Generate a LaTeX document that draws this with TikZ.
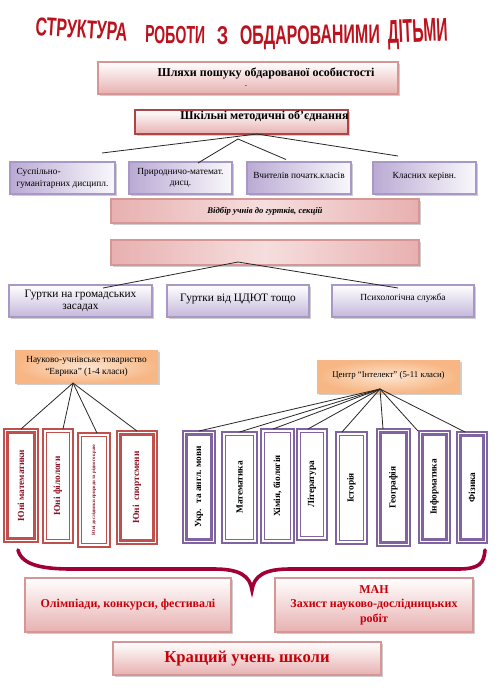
\documentclass[tikz,border=0pt]{standalone}
\usepackage{fontspec}
\setmainfont{Liberation Serif}
\setsansfont{Liberation Sans}
\usetikzlibrary{shadows,calc}
\definecolor{pinkB}{RGB}{232,176,176}
\definecolor{pinkL}{RGB}{246,222,222}
\definecolor{pinkEdge}{RGB}{214,150,150}
\definecolor{shkEdge}{RGB}{170,70,70}
\definecolor{lav}{RGB}{186,170,212}
\definecolor{lavEdge}{RGB}{168,152,198}
\definecolor{orOut}{RGB}{247,182,132}
\definecolor{orIn}{RGB}{252,228,208}
\definecolor{redBox}{RGB}{192,80,77}
\definecolor{purpleBox}{RGB}{128,100,162}
\definecolor{braceCol}{RGB}{160,0,55}
\definecolor{textRed}{RGB}{200,0,10}
\definecolor{darkRed}{RGB}{140,20,40}
\definecolor{titleRed}{RGB}{188,18,30}
\newcommand\fsz[2]{\fontsize{#1}{#2}\selectfont}
\newcommand\mybox[7]{\node[#6,minimum width={(#4-#2)*0.75pt},minimum height={(#5-#3)*0.75pt}] (#1) at ({(#2+#4)/2},{(#3+#5)/2}) {#7};}
\newcommand\dbox[8]{%
  \node[#6,minimum width={(#4-#2)*0.75pt},minimum height={(#5-#3)*0.75pt}] (#1) at ({(#2+#4)/2},{(#3+#5)/2}) {\rotatebox{90}{#8}};
  \draw[#7] ($(#1.south west)+(3.5,-3.5)$) rectangle ($(#1.north east)+(-3.5,3.5)$);}
\begin{document}
\begin{tikzpicture}[x=0.75pt,y=-0.75pt,
  conn/.style={draw=black!85,line width=0.6pt},
  base/.style={inner sep=0pt,outer sep=0pt,align=center},
  shd/.style={drop shadow={shadow xshift=1.3pt,shadow yshift=-1.3pt,opacity=0.35,fill=black!55}},
  ttl/.style={inner sep=0pt,anchor=base,text=titleRed,font=\sffamily\bfseries},
  pinkgrad/.style={base,shd,draw=pinkEdge,line width=1pt,top color=white,bottom color=pinkB},
  shkbox/.style={base,shd,draw=shkEdge,line width=1.4pt,top color=white,bottom color=pinkB},
  pinkband/.style={base,shd,draw=pinkEdge,line width=0.8pt,left color=pinkB,right color=pinkB,middle color=pinkL},
  lavbox/.style={base,shd,draw=lavEdge,line width=0.8pt,left color=lav,right color=white!92!lav,font=\fsz{7pt}{9.5pt}},
  lavbot/.style={base,shd,draw=lavEdge,line width=0.8pt,top color=white,bottom color=lav!85},
  orbox/.style={base,shd,inner color=orIn,outer color=orOut,font=\fsz{7pt}{9pt}},
  botbox/.style={base,shd,draw=pinkEdge,line width=1.5pt,top color=white,bottom color=pinkB,text=textRed,font=\bfseries\fsz{9pt}{10.9pt}},
  rbox/.style={base,draw=redBox,fill=white,text=darkRed,font=\bfseries\fsz{7pt}{8pt}},
  rin/.style={draw=redBox},
  pbox/.style={base,draw=purpleBox,fill=white,text=black,font=\bfseries\fsz{7pt}{8pt}},
  pin/.style={draw=purpleBox}]
\useasboundingbox (0,0) rectangle (501,697);

% title
\node[ttl,rotate=-3.7] (t1) at (81,38) {\resizebox{69pt}{13.5pt}{СТРУКТУРА}};
\node[ttl,rotate=-1] (t2) at (175,43.5) {\resizebox{45pt}{13pt}{РОБОТИ}};
\node[ttl] (t3) at (222.5,44) {\resizebox{8.5pt}{13.5pt}{З}};
\node[ttl,rotate=0.8] (t4) at (310,44) {\resizebox{105pt}{14pt}{ОБДАРОВАНИМИ}};
\node[ttl,rotate=2.5] (t5) at (418,42) {\resizebox{45pt}{17pt}{ДІТЬМИ}};

% top boxes
\mybox{wb}{98}{62}{398}{94}{pinkgrad}{}
\node[base,font=\bfseries\fsz{9pt}{10pt}] (wt) at (266,73) {Шляхи пошуку обдарованої особистості};
\node[base,font=\fsz{7pt}{8pt}] (wd) at (246,86) {.};
\mybox{shk}{135}{110}{348}{134}{shkbox}{}
\node[base,font=\bfseries\fsz{9pt}{10pt}] (st) at (264.5,116) {Шкільні методичні об’єднання};

% row of four
\mybox{pa}{10}{162}{115}{194}{lavbox}{\begin{tabular}{@{}l@{}}Суспільно-\\гуманітарних дисципл.\end{tabular}}
\mybox{pb}{129}{162}{232}{194}{lavbox,font=\fsz{7pt}{8.3pt}}{Природничо-математ.\\дисц.}
\mybox{pc}{247}{162}{351}{194}{lavbox}{\raisebox{3.5pt}{Вчителів початк.класів}}
\mybox{pd}{373}{162}{476}{194}{lavbox}{\raisebox{3.5pt}{Класних керівн.}}

\coordinate (ap1) at ($(shk.south)+(15.5,0)$);
\coordinate (ap2) at (238,139);
\coordinate (e1) at (102,153);
\coordinate (e2) at (398,156);
\coordinate (e3) at (286,159.5);
\draw[conn] (ap1) -- (e1);
\draw[conn] (ap1) -- (e2);
\draw[conn] (ap2) -- ($(pb.north)+(17.5,1)$);
\draw[conn] (ap2) -- (e3);

% bands
\mybox{vb}{111}{199}{419}{223}{pinkband,font=\bfseries\itshape\fsz{6.5pt}{8pt}}{\raisebox{1.5pt}{Відбір учнів до гуртків, секцій}}
\mybox{emp}{111}{240}{419}{265}{pinkband}{}

% row of three
\mybox{g1}{9}{285}{152}{317}{lavbot,font=\fsz{8.5pt}{9pt}}{Гуртки на громадських\\засадах}
\mybox{g2}{167}{285}{309}{317}{lavbot,font=\fsz{8.5pt}{9pt}}{\raisebox{4.5pt}{Гуртки від ЦДЮТ тощо}}
\mybox{g3}{332}{285}{474}{317}{lavbot,font=\fsz{7pt}{8pt}}{\raisebox{5.5pt}{Психологічна служба}}
\coordinate (ap3) at ($(emp.south)+(-27,-3)$);
\draw[conn] (ap3) -- ($(g1.north)+(22.5,3)$);
\draw[conn] (ap3) -- ($(g3.north)+(-5,3)$);

% orange boxes
\mybox{eur}{15}{350}{158}{383}{orbox}{Науково-учнівське товариство\\“Еврика” (1-4 класи)}
\mybox{int}{317}{360}{460}{393}{orbox,font=\fsz{6.6pt}{8pt}}{\raisebox{2.5pt}{Центр “Інтелект” (5-11 класи)}}

% red double boxes
\dbox{r1}{4}{429}{38}{542}{rbox,line width=0.8pt}{rin,line width=1.9pt}{Юні математики}
\dbox{r2}{43}{429}{73}{543}{rbox,line width=1.9pt}{rin,line width=0.8pt}{Юні філологи}
\dbox{r3}{78}{433}{110}{547}{rbox,line width=1.7pt,font=\bfseries\fsz{3.6pt}{4pt}}{rin,line width=0.9pt}{Юні дослідники природи та рідного краю}
\dbox{r4}{117}{431}{157}{544}{rbox,line width=1.6pt}{rin,line width=1.6pt}{Юні \ спортсмени}

% purple double boxes
\dbox{p1}{183}{431}{215}{543}{pbox,line width=1pt}{pin,line width=1.9pt}{Укр. \ та англ. мови}
\dbox{p2}{222}{432}{257}{543}{pbox,line width=1.6pt}{pin,line width=0.8pt}{Математика}
\dbox{p3}{261}{429}{294}{543}{pbox,line width=1pt}{pin,line width=0.9pt}{Хімія, біологія}
\dbox{p4}{297}{429}{327}{540}{pbox,line width=1.8pt}{pin,line width=0.8pt}{Література}
\dbox{p5}{336}{432}{367}{544}{pbox,line width=1pt}{pin,line width=0.9pt}{Історія}
\dbox{p6}{377}{429}{410}{546}{pbox,line width=1.8pt}{pin,line width=1.8pt}{Географія}
\dbox{p7}{419}{431}{450}{543}{pbox,line width=1pt}{pin,line width=1.8pt}{Інформатика}
\dbox{p8}{457}{432}{487}{543}{pbox,line width=1pt}{pin,line width=1.8pt}{Фізика}

% connectors from Eureka
\coordinate (ap4) at ($(eur.south)+(-13.5,0)$);
\draw[conn] (ap4) -- (r1.north);
\draw[conn] (ap4) -- ($(r2.north)+(5,0)$);
\draw[conn] (ap4) -- ($(r3.north)+(3,0)$);
\draw[conn] (ap4) -- (r4.north);
% connectors from Intelekt
\coordinate (ap5) at ($(int.south)+(-8.5,-4)$);
\draw[conn] (ap5) -- (p1.north);
\draw[conn] (ap5) -- (p2.north);
\draw[conn] (ap5) -- ($(p3.north)+(-4.5,0)$);
\draw[conn] (ap5) -- ($(p4.north)+(-4,0)$);
\draw[conn] (ap5) -- ($(p5.north)+(-9.5,0)$);
\draw[conn] (ap5) -- ($(p6.north)+(-10.5,0)$);
\draw[conn] (ap5) -- ($(p7.north)+(-16.5,0)$);
\draw[conn] (ap5) -- ($(p8.north)+(-7,0)$);

% brace
\draw[braceCol,line width=2.7pt,line cap=round]
  (18,550) .. controls (22,566) and (45,569) .. (72,569) -- (214,569)
  .. controls (240,569) and (250,576) .. (252,590)
  .. controls (254,576) and (264,569) .. (290,569) -- (458,569)
  .. controls (480,569) and (484,563) .. (485,550);

% bottom boxes
\mybox{ol}{25}{578}{231}{632}{botbox}{\raisebox{3pt}{Олімпіади, конкурси, фестивалі}}
\mybox{man}{275}{578}{473}{632}{botbox}{МАН\\Захист науково-дослідницьких\\робіт}
\mybox{best}{113}{642}{381}{675}{botbox,font=\bfseries\fsz{12.5pt}{14pt}}{\raisebox{1.5pt}{Кращий учень школи}}
\end{tikzpicture}
\end{document}
